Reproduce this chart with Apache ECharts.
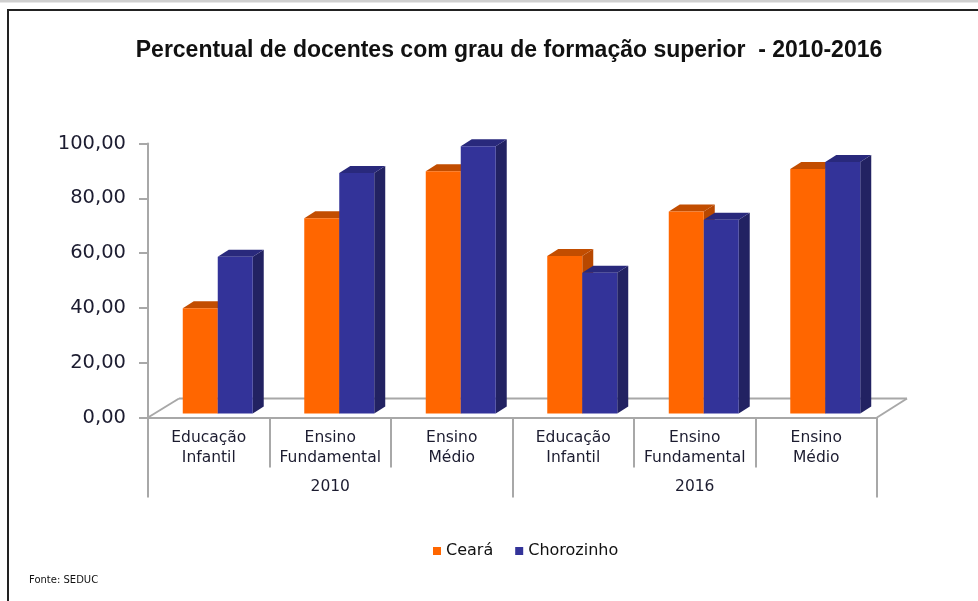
<!DOCTYPE html>
<html>
<head>
  <meta charset="UTF-8">
  <title>Percentual de docentes</title>
  <style type="text/css">
    html, body { margin: 0; padding: 0; background: #ffffff; }
    #grafico { width: 978px; height: 601px; }
  </style>
  <script src="https://cdn.jsdelivr.net/npm/echarts@6/dist/echarts.min.js"></script>
</head>
<body>
<div id="grafico"></div>
<script type="text/javascript">
    // dados
    var categorias = ['Educação\nInfantil', 'Ensino\nFundamental', 'Ensino\nMédio',
                      'Educação\nInfantil', 'Ensino\nFundamental', 'Ensino\nMédio'];
    var anos = ['2010', '2016'];
    var ceara = [38.4, 71.3, 88.4, 57.5, 73.7, 89.2];
    var chorozinho = [57.2, 87.8, 97.5, 51.4, 70.7, 91.8];
    var yTicks = [0, 20, 40, 60, 80, 100];

    var cinza = '#a8a8a8';
    var texto = '#1c1c30';

    // barra 3d: frente, topo e lado
    function barra3d(lado, cores) {
        return function (params, api) {
            var i = api.value(0);
            var v = api.value(1);
            var base = api.coord([i, 0]);
            var topo = api.coord([i, v]);
            var band = api.size([1, 0])[0];
            var w = band * 0.288;
            var cx = base[0] + 9;
            var x0 = lado === 0 ? cx - w : cx;
            var yb = base[1] - 4;
            var yt = topo[1] - 4;
            var dx = 11, dy = -7;
            return {
                type: 'group',
                children: [{
                    type: 'polygon',
                    shape: { points: [[x0 + w, yt], [x0 + w + dx, yt + dy], [x0 + w + dx, yb + dy], [x0 + w, yb]] },
                    style: { fill: cores[2] }
                }, {
                    type: 'polygon',
                    shape: { points: [[x0, yt], [x0 + w, yt], [x0 + w + dx, yt + dy], [x0 + dx, yt + dy]] },
                    style: { fill: cores[1] }
                }, {
                    type: 'rect',
                    shape: { x: x0, y: yt, width: w, height: yb - yt },
                    style: { fill: cores[0] }
                }]
            };
        };
    }

    function piso(params, api) {
        var cs = params.coordSys;
        var yf = cs.y + cs.height;
        var xl = cs.x, xr = cs.x + cs.width;
        var st = { stroke: cinza, lineWidth: 2, fill: null };
        return {
            type: 'group',
            children: [
                { type: 'line', shape: { x1: xl, y1: yf, x2: xl + 31, y2: yf - 19 }, style: st },
                { type: 'line', shape: { x1: xl + 31, y1: yf - 19, x2: xr + 30, y2: yf - 19 }, style: st },
                { type: 'line', shape: { x1: xr, y1: yf, x2: xr + 30, y2: yf - 19 }, style: st }
            ]
        };
    }

    var myChart = echarts.init(document.getElementById('grafico'));
    var option = {
        backgroundColor: '#ffffff',
        animation: false,
        title: [{
            text: 'Percentual de docentes com grau de formação superior  - 2010-2016',
            left: 504,
            textAlign: 'center',
            top: 34,
            textStyle: { fontFamily: 'Liberation Sans', fontWeight: 'bold', fontSize: 23, color: '#111111' }
        }, {
            text: 'Fonte: SEDUC',
            left: 24,
            top: 570,
            textStyle: { fontFamily: 'DejaVu Sans', fontWeight: 'normal', fontSize: 10, color: '#111111' }
        }],
        legend: {
            left: 428,
            top: 538,
            icon: 'rect',
            itemWidth: 8,
            itemHeight: 8,
            itemGap: 22,
            textStyle: { fontFamily: 'DejaVu Sans', fontSize: 16, color: '#111111' },
            data: ['Ceará', 'Chorozinho']
        },
        graphic: [
            { type: 'line', shape: { x1: 0, y1: 1, x2: 978, y2: 1 }, style: { stroke: '#cfcfcf', lineWidth: 3 } },
            { type: 'rect', shape: { x: 8, y: 10, width: 1000, height: 700 }, style: { stroke: '#222222', lineWidth: 2, fill: null } }
        ],
        grid: { left: 148, right: 101, top: 143.5, bottom: 183.5 },
        xAxis: [{
            type: 'category',
            data: categorias,
            position: 'bottom',
            axisLine: { show: true, lineStyle: { color: cinza, width: 2 } },
            axisTick: { show: true, interval: 0, length: 50, lineStyle: { color: cinza, width: 2 } },
            axisLabel: {
                interval: 0, margin: 10, lineHeight: 20,
                fontFamily: 'DejaVu Sans', fontSize: 15.5, color: texto
            }
        }, {
            type: 'category',
            data: anos,
            position: 'bottom',
            axisLine: { show: false },
            axisTick: { show: true, interval: 0, length: 80, lineStyle: { color: cinza, width: 2 } },
            axisLabel: {
                interval: 0, margin: 59, lineHeight: 20,
                fontFamily: 'DejaVu Sans', fontSize: 15.5, color: texto
            }
        }],
        yAxis: {
            type: 'value',
            min: yTicks[0],
            max: yTicks[yTicks.length - 1],
            interval: 20,
            axisLine: { show: true, lineStyle: { color: cinza, width: 2 } },
            axisTick: { show: true, length: 9, lineStyle: { color: cinza, width: 2 } },
            splitLine: { show: false },
            axisLabel: {
                margin: 22,
                fontFamily: 'DejaVu Sans', fontSize: 19.5, color: texto,
                formatter: function (v) { return v.toFixed(2).replace('.', ','); }
            }
        },
        series: [{
            type: 'custom',
            name: 'piso',
            silent: true,
            z: 1,
            renderItem: piso,
            data: [[0, 0]]
        }, {
            type: 'custom',
            name: 'Ceará',
            z: 2,
            itemStyle: { color: '#ff6600' },
            renderItem: barra3d(0, ['#ff6600', '#c24d00', '#b84800']),
            encode: { x: 0, y: 1 },
            data: ceara.map(function (v, i) { return [i, v]; })
        }, {
            type: 'custom',
            name: 'Chorozinho',
            z: 3,
            itemStyle: { color: '#333399' },
            renderItem: barra3d(1, ['#333399', '#29297c', '#222262']),
            encode: { x: 0, y: 1 },
            data: chorozinho.map(function (v, i) { return [i, v]; })
        }]
    };
    myChart.setOption(option);
</script>
</body>
</html>
